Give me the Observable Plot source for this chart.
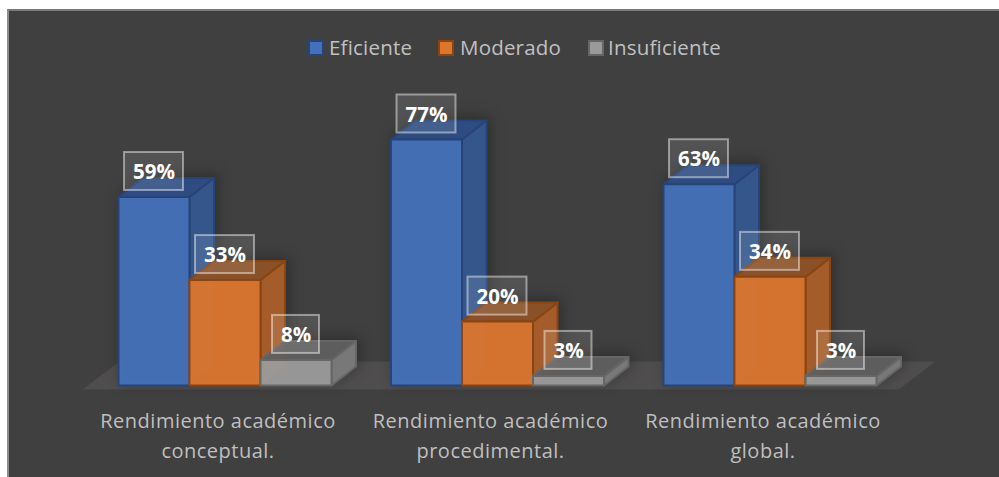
<!DOCTYPE html>
<html><head><meta charset="utf-8">
<script src="https://cdn.jsdelivr.net/npm/d3@7"></script>
<script src="https://cdn.jsdelivr.net/npm/@observablehq/plot@0.6"></script>
<style>
html,body{margin:0;padding:0;background:#fff;width:999px;height:477px;overflow:hidden}
#panel{position:absolute;left:7px;top:9px;width:992px;height:468px;background:#404040;border-top:2px solid #7a7a7a;border-left:2px solid #8c8c8c;box-sizing:border-box}
#chart{position:absolute;left:0;top:0}
#chart svg{background:transparent;display:block}
#legend{position:absolute;left:0;top:35px;width:999px;height:24px;font:20.5px "Open Sans",sans-serif;color:#c0c0c0;letter-spacing:.2px}
.it{position:absolute;top:0;line-height:24px;white-space:nowrap}
.sw{position:absolute;top:5px;width:16px;height:16px;box-sizing:border-box;border:2px solid}
.shade{filter:drop-shadow(3px -3px 7px rgba(0,0,0,.3))}
.cat text{letter-spacing:.5px}
</style></head><body>
<div id="panel"></div>
<div id="chart"></div>
<div id="legend"></div>
<script>
const categories = ["Rendimiento académico\nconceptual.","Rendimiento académico\nprocedimental.","Rendimiento académico\nglobal."];
const seriesNames = ["Eficiente","Moderado","Insuficiente"];
const eficiente = [59,77,63];
const moderado = [33,20,34];
const insuficiente = [8,3,3];
const seriesValues = [eficiente,moderado,insuficiente];
const frontColors = ["#4470b8","#db762f","#9a9a9a"];
const sideColors  = ["#35578f","#a95f2a","#7b7b7b"];
const topColors   = ["#2f4d85","#8e5229","#5f5f5f"];
const edgeColors  = ["#264478","#8a4510","#666666"];
const legendX = [[308,329],[438,460],[588,608]];

// scale geometry
const W=999,H=477, groupPx=272.5, pctPx=3.195, x0Px=217.5, baseY=385;
const xDomain=[-x0Px/groupPx,(W-x0Px)/groupPx];
const yDomain=[-(H-baseY)/pctPx, baseY/pctPx];
const gx=p=>p/groupPx, gy=p=>p/pctPx;
const barW=gx(71), startX=gx(-99.5), depthX=gx(24.5), depthY=gy(19);

const faces=[];
seriesValues.forEach((vals,s)=>vals.forEach((v,c)=>{
  const l=c+startX+s*barW, r=l+barW, b=0, t=v, id=`${c}-${s}`;
  const add=(name,color,pts)=>pts.forEach(([x,y])=>faces.push({id:id+name,x,y,color,edge:edgeColors[s],order:s}));
  add("s",sideColors[s],[[r,b],[r+depthX,b+depthY],[r+depthX,t+depthY],[r,t],[r,b]]);
  add("t",topColors[s],[[l,t],[l+depthX,t+depthY],[r+depthX,t+depthY],[r,t],[l,t]]);
  add("f",frontColors[s],[[l,b],[r,b],[r,t],[l,t],[l,b]]);
}));
const floor=[[gx(82-x0Px),-gy(4)],[gx(898-x0Px),-gy(4)],[gx(935-x0Px),gy(24)],[gx(119-x0Px),gy(24)],[gx(82-x0Px),-gy(4)]];

const labels=[];
seriesValues.forEach((vals,s)=>vals.forEach((v,c)=>{
  labels.push({c:c+startX+s*barW+barW/2,y:v+gy(25.5),text:v+"%",hw:gx(v>=10?29.5:23.5)});
}));

const plot=Plot.plot({
  width:W,height:H,margin:0,
  style:{background:"transparent",overflow:"visible"},
  x:{domain:xDomain,axis:null},
  y:{domain:yDomain,axis:null},
  marks:[
    Plot.line(floor,{x:d=>d[0],y:d=>d[1],fill:"#4f4d4d",stroke:"none",curve:"linear"}),
    Plot.line(faces,{x:"x",y:"y",z:"id",fill:"color",stroke:"edge",strokeWidth:2,fillOpacity:0.96,curve:"linear",sort:null,className:"shade"}),
    Plot.rect(labels,{x1:d=>d.c-d.hw,x2:d=>d.c+d.hw,y1:d=>d.y-gy(19),y2:d=>d.y+gy(19),fill:"#fff",fillOpacity:0.1,stroke:"#fff",strokeOpacity:0.45,strokeWidth:2}),
    Plot.text(labels,{x:"c",y:d=>d.y-gy(1),text:"text",fill:"#fff",fontSize:20.5,fontWeight:700,fontFamily:"Open Sans"}),
    Plot.axisX({ticks:[0,1,2],tickFormat:i=>categories[i],tickSize:0,anchor:"bottom",y:yDomain[0],label:null,fontSize:20,fontFamily:"Open Sans",fill:"#bfbfbf",lineHeight:1.5,tickPadding:0,dy:-71,className:"cat"})
  ]
});
document.getElementById("chart").appendChild(plot);

const lg=document.getElementById("legend");
seriesNames.forEach((n,i)=>{
  const sw=document.createElement("div");sw.className="sw";sw.style.left=legendX[i][0]+"px";
  sw.style.background=frontColors[i];sw.style.borderColor=edgeColors[i];lg.appendChild(sw);
  const t=document.createElement("div");t.className="it";t.style.left=legendX[i][1]+"px";t.textContent=n;lg.appendChild(t);
});
</script></body></html>
